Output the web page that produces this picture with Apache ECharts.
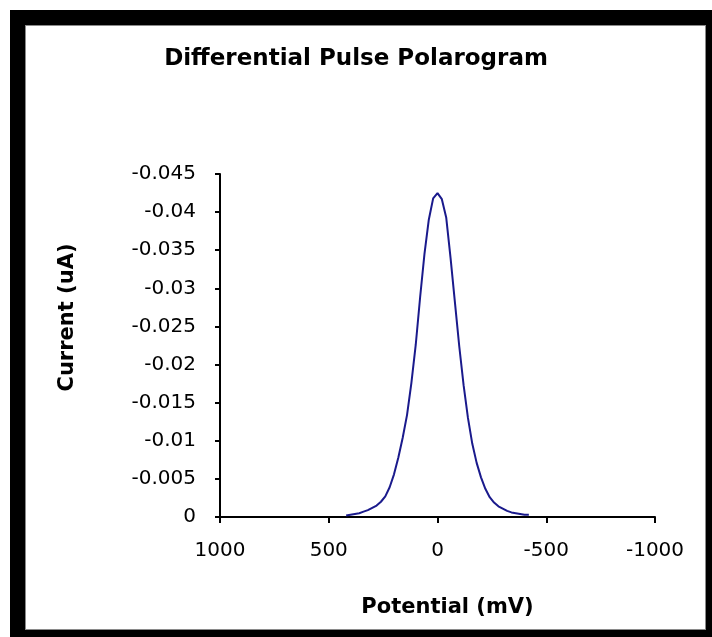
<!DOCTYPE html>
<html>
<head>
<meta charset="utf-8">
<script src="https://cdn.jsdelivr.net/npm/echarts@6/dist/echarts.min.js"></script>
<style>
  html, body { margin: 0; padding: 0; background: #fff; }
  #chart { position: absolute; left: 0; top: 0; width: 712px; height: 637px; }
  #frame {
    position: absolute; left: 10px; top: 10px; width: 702px; height: 627px;
    box-sizing: border-box; border: solid #000;
    border-width: 15px 6px 7px 15px;
    box-shadow: inset -1px -1px 0 #8a8a8a, inset 1px 1px 0 #8a8a8a;
    pointer-events: none;
  }
</style>
</head>
<body>
<div id="chart"></div>
<div id="frame"></div>
<script>
// potential (mV) and current (uA)
const potential = [
  420, 400, 380, 360, 340, 320, 300, 280, 260, 240, 220, 200, 180, 160, 140, 120, 100, 80, 60, 40, 20,
  0,
  -20, -40, -60, -80, -100, -120, -140, -160, -180, -200, -220, -240, -260, -280, -300, -320, -340, -360, -380, -400, -420,
]
const current = [
  -0.0002, -0.0003, -0.0004, -0.0005, -0.0007, -0.0009, -0.0012, -0.0015, -0.002, -0.0027, -0.0039,
  -0.0056, -0.0078, -0.0104, -0.0134, -0.0176, -0.0226, -0.0288, -0.0345, -0.039, -0.0418,
  -0.0425,
  -0.0417, -0.0393, -0.034, -0.0282, -0.0224, -0.0173, -0.013, -0.0096, -0.0071, -0.0052,
  -0.0037, -0.0026, -0.0019, -0.0014, -0.0011, -0.0008, -0.0006, -0.0005, -0.0004, -0.0003, -0.0003,
]
const xTicks = { min: -1000, max: 1000, interval: 500 }
const yTicks = { min: -0.045, max: 0, interval: 0.005 }

const chart = echarts.init(document.getElementById('chart'))
const font = 'DejaVu Sans'
const option = {
  backgroundColor: '#fff',
  animation: false,
  title: {
    text: 'Differential Pulse Polarogram',
    left: 'center',
    top: 43,
    textStyle: { fontFamily: font, fontSize: 23, fontWeight: 'bold', color: '#000' },
  },
  grid: { left: 220, right: 57, top: 174, bottom: 120 },
  xAxis: {
    type: 'value',
    inverse: true,
    min: xTicks.min,
    max: xTicks.max,
    interval: xTicks.interval,
    name: 'Potential (mV)',
    nameLocation: 'middle',
    nameGap: 80,
    nameTextStyle: { fontFamily: font, fontSize: 21, fontWeight: 'bold', color: '#000', padding: [0, 0, 0, 20] },
    splitLine: { show: false },
    axisLine: { onZero: false, lineStyle: { color: '#000', width: 2 } },
    axisTick: { inside: false, length: 6, lineStyle: { color: '#000', width: 2 } },
    axisLabel: { color: '#000', fontFamily: font, fontSize: 20, margin: 24, formatter: v => String(v) },
  },
  yAxis: {
    type: 'value',
    inverse: true,
    min: yTicks.min,
    max: yTicks.max,
    interval: yTicks.interval,
    name: 'Current (uA)',
    nameLocation: 'middle',
    nameGap: 142,
    nameTextStyle: { fontFamily: font, fontSize: 21, fontWeight: 'bold', color: '#000', padding: [0, 0, 0, 56] },
    splitLine: { show: false },
    axisLine: { show: true, onZero: false, lineStyle: { color: '#000', width: 2 } },
    axisTick: { show: true, inside: false, length: 5, lineStyle: { color: '#000', width: 2 } },
    axisLabel: {
      color: '#000',
      fontFamily: font,
      fontSize: 20,
      margin: 24,
      formatter: v => String(+v.toFixed(3)),
    },
  },
  series: [
    {
      type: 'line',
      data: potential.map((p, i) => [p, current[i]]),
      showSymbol: false,
      lineStyle: { color: '#1a1a8c', width: 2 },
    },
  ],
}
chart.setOption(option)
</script>
</body>
</html>
